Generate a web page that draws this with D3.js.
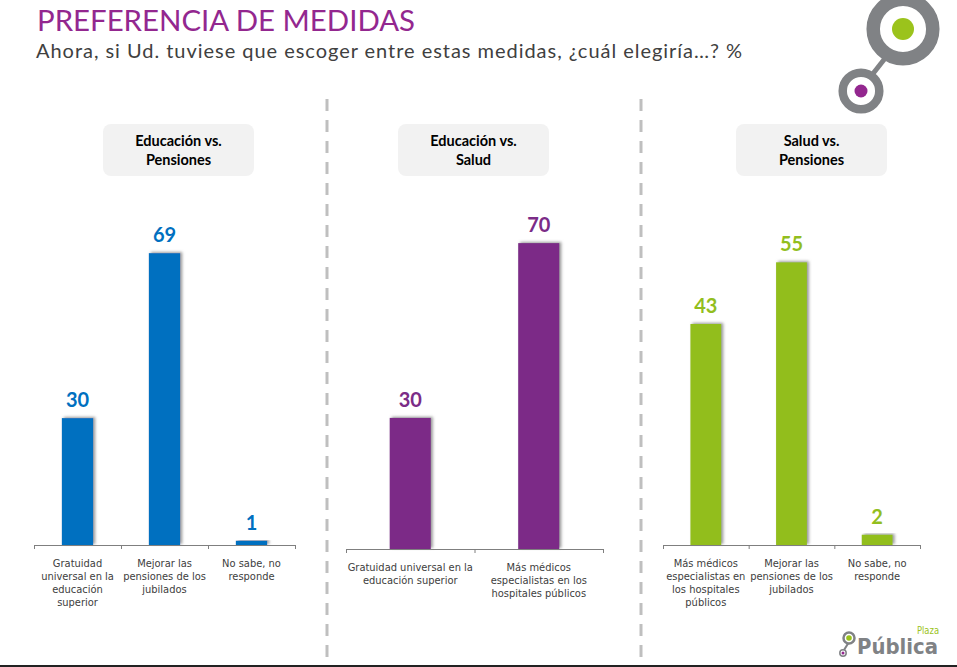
<!DOCTYPE html>
<html>
<head>
<meta charset="utf-8">
<script src="https://cdn.jsdelivr.net/npm/d3@7"></script>
<style>
  body { margin: 0; background: #fff; }
  svg { display: block; }
</style>
</head>
<body>
<svg id="chart" width="957" height="667"></svg>
<script>
// data
var panelTitles = [["Educación vs.", "Pensiones"], ["Educación vs.", "Salud"], ["Salud vs.", "Pensiones"]];
var cats1 = [["Gratuidad", "universal en la", "educación", "superior"], ["Mejorar las", "pensiones de los", "jubilados"], ["No sabe, no", "responde"]];
var vals1 = [30, 69, 1];
var cats2 = [["Gratuidad universal en la", "educación superior"], ["Más médicos", "especialistas en los", "hospitales públicos"]];
var vals2 = [30, 70];
var cats3 = [["Más médicos", "especialistas en", "los hospitales", "públicos"], ["Mejorar las", "pensiones de los", "jubilados"], ["No sabe, no", "responde"]];
var vals3 = [43, 55, 2];

var svg = d3.select('#chart');

var defs = svg.append('defs');
defs.append('filter').attr('id', 'shadow')
    .attr('x', '-30%').attr('y', '-10%').attr('width', '160%').attr('height', '120%')
    .append('feDropShadow')
    .attr('dx', 2).attr('dy', -1).attr('stdDeviation', 1.4)
    .attr('flood-color', '#777').attr('flood-opacity', 0.75);

// title
svg.append('text').attr('x', 37).attr('y', 31)
    .attr('font-family', 'Lato, sans-serif').attr('font-size', 29)
    .attr('textLength', 378).attr('lengthAdjust', 'spacingAndGlyphs')
    .attr('fill', '#93278F').text('PREFERENCIA DE MEDIDAS');
svg.append('text').attr('x', 36).attr('y', 58)
    .attr('font-family', 'Lato, sans-serif').attr('font-size', 20)
    .attr('textLength', 706).attr('lengthAdjust', 'spacing')
    .attr('fill', '#404040').text('Ahora, si Ud. tuviese que escoger entre estas medidas, ¿cuál elegiría…? %');

// dashed dividers
[327, 641].forEach(function(x) {
    svg.append('line').attr('x1', x).attr('x2', x).attr('y1', 99).attr('y2', 660)
        .attr('stroke', '#BFBFBF').attr('stroke-width', 3)
        .attr('stroke-dasharray', '12,9');
});

var panels = [
    {cats: cats1, vals: vals1, color: '#0070C0', x0: 34, x1: 295, base: 545, top: 122, barFrac: 0.36, box: 103},
    {cats: cats2, vals: vals2, color: '#7B2C87', x0: 346, x1: 603, base: 549, top: 112, barFrac: 0.32, box: 398},
    {cats: cats3, vals: vals3, color: '#92BE1E', x0: 663, x1: 920, base: 545, top: 31, barFrac: 0.36, box: 736}
];

panels.forEach(function(p, pi) {
    var g = svg.append('g');

    // header box
    g.append('rect').attr('x', p.box).attr('y', 124).attr('width', 151).attr('height', 52)
        .attr('rx', 8).attr('fill', '#F2F2F2');
    var ht = g.append('text').attr('text-anchor', 'middle')
        .attr('font-family', 'Lato, sans-serif').attr('font-weight', 'bold')
        .attr('font-size', 14.5).attr('fill', '#000');
    panelTitles[pi].forEach(function(line, li) {
        ht.append('tspan').attr('x', p.box + 75.5).attr('y', 146 + li * 19).text(line);
    });

    var x = d3.scaleBand().domain(d3.range(p.vals.length)).range([p.x0, p.x1]).padding(0);
    var y = d3.scaleLinear().domain([0, 100]).range([p.base, p.top]);
    var bw = x.bandwidth() * p.barFrac;

    g.selectAll('.bar').data(p.vals)
        .enter().append('rect')
        .attr('class', 'bar')
        .attr('x', function(d, i) { return x(i) + (x.bandwidth() - bw) / 2; })
        .attr('y', function(d) { return y(d); })
        .attr('width', bw)
        .attr('height', function(d) { return p.base - y(d); })
        .attr('fill', p.color)
        .attr('filter', 'url(#shadow)');

    g.selectAll('.val').data(p.vals)
        .enter().append('text')
        .attr('class', 'val')
        .attr('x', function(d, i) { return x(i) + x.bandwidth() / 2; })
        .attr('y', function(d) { return y(d) - 11; })
        .attr('text-anchor', 'middle')
        .attr('font-family', 'Lato, sans-serif').attr('font-weight', 'bold')
        .attr('font-size', 20).attr('fill', p.color)
        .text(function(d) { return d; });

    // axis with ticks at the band edges
    var edges = d3.scaleLinear().domain([0, p.vals.length]).range([p.x0, p.x1]);
    var axis = g.append('g').attr('transform', 'translate(0,' + p.base + ')')
        .call(d3.axisBottom(edges).tickValues(d3.range(p.vals.length + 1))
            .tickFormat('').tickSizeInner(4).tickSizeOuter(4));
    axis.select('.domain').attr('stroke', '#7F7F7F');
    axis.selectAll('.tick line').attr('stroke', '#7F7F7F');

    p.cats.forEach(function(lines, ci) {
        var t = g.append('text').attr('text-anchor', 'middle')
            .attr('font-family', '"DejaVu Sans Condensed", "DejaVu Sans", sans-serif')
            .attr('font-size', 11).attr('fill', '#404040');
        lines.forEach(function(line, li) {
            t.append('tspan').attr('x', x(ci) + x.bandwidth() / 2)
                .attr('y', p.base + 22 + li * 13).text(line);
        });
    });
});

// top right logo
var logo = svg.append('g');
logo.append('line').attr('x1', 868).attr('y1', 80).attr('x2', 890).attr('y2', 52)
    .attr('stroke', '#808285').attr('stroke-width', 5);
logo.append('circle').attr('cx', 903).attr('cy', 29).attr('r', 29.8)
    .attr('fill', '#fff').attr('stroke', '#808285').attr('stroke-width', 13.5);
logo.append('circle').attr('cx', 903).attr('cy', 29).attr('r', 11).attr('fill', '#9BC31C');
logo.append('circle').attr('cx', 861).attr('cy', 91).attr('r', 18.3)
    .attr('fill', '#fff').attr('stroke', '#808285').attr('stroke-width', 8.5);
logo.append('circle').attr('cx', 861).attr('cy', 91).attr('r', 6.5).attr('fill', '#93278F');

// bottom right logo
var bl = svg.append('g');
bl.append('line').attr('x1', 844).attr('y1', 650).attr('x2', 849).attr('y2', 642)
    .attr('stroke', '#808285').attr('stroke-width', 2);
bl.append('circle').attr('cx', 849).attr('cy', 638).attr('r', 5.5)
    .attr('fill', '#fff').attr('stroke', '#808285').attr('stroke-width', 2.5);
bl.append('circle').attr('cx', 849).attr('cy', 638).attr('r', 2.8).attr('fill', '#9BC31C');
bl.append('circle').attr('cx', 843).attr('cy', 653).attr('r', 3.2)
    .attr('fill', '#fff').attr('stroke', '#808285').attr('stroke-width', 1.5);
bl.append('circle').attr('cx', 843).attr('cy', 653).attr('r', 1.5).attr('fill', '#93278F');
bl.append('text').attr('x', 857).attr('y', 654)
    .attr('font-family', '"DejaVu Sans Condensed", "DejaVu Sans", sans-serif')
    .attr('font-weight', 'bold').attr('font-size', 22)
    .attr('textLength', 81).attr('lengthAdjust', 'spacingAndGlyphs')
    .attr('fill', '#808285').text('Pública');
bl.append('text').attr('x', 917).attr('y', 634)
    .attr('font-family', '"DejaVu Sans Condensed", "DejaVu Sans", sans-serif')
    .attr('font-size', 10).attr('textLength', 22).attr('lengthAdjust', 'spacingAndGlyphs')
    .attr('fill', '#9BC31C').text('Plaza');

// footnote, mostly cut off by the page edge
svg.append('text').attr('x', 58).attr('y', 675)
    .attr('font-family', 'Lato, sans-serif').attr('font-size', 14)
    .attr('fill', '#595959').text('Casos: 733');

svg.append('rect').attr('x', 0).attr('y', 665).attr('width', 957).attr('height', 2)
    .attr('fill', '#222');
</script>
</body>
</html>
